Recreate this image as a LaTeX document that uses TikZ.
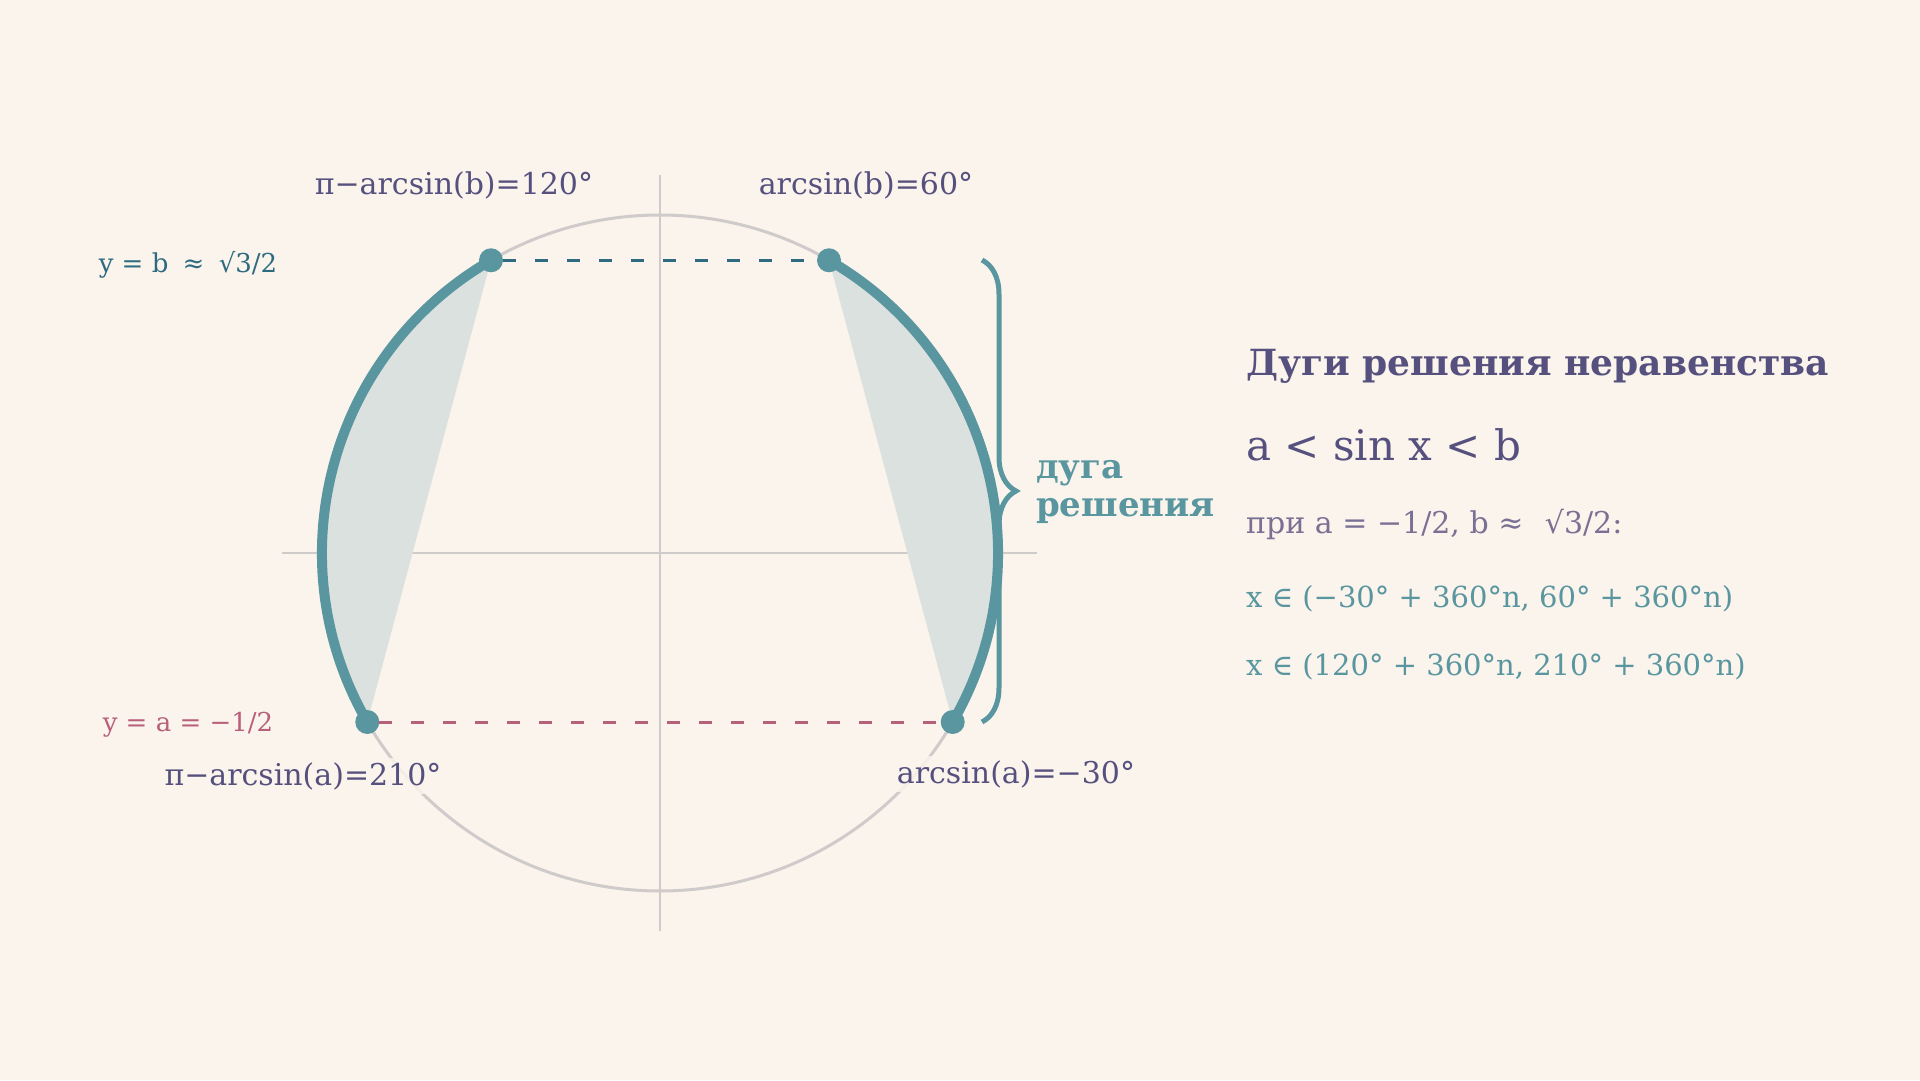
\documentclass[tikz,border=0pt]{standalone}
\usepackage{fontspec}
\setmainfont{DejaVu Serif}
\usetikzlibrary{decorations.pathreplacing}
\definecolor{bg}{HTML}{FAF4EC}
\definecolor{arccol}{HTML}{5A96A0}
\definecolor{bcol}{HTML}{2E6A80}
\definecolor{acol}{HTML}{B8607A}
\definecolor{ink}{HTML}{56507E}
\definecolor{inklight}{HTML}{7A7094}
\definecolor{axiscol}{HTML}{D0CBCB}
\definecolor{shadecol}{HTML}{DAE1DF}
\tikzset{
  lbl/.style={fill=bg,fill opacity=.85,text opacity=1,inner sep=4pt,text=ink,
    font=\fontsize{30}{36}\selectfont},
  ylbl/.style={lbl,font=\fontsize{26}{32}\selectfont},
  pt/.style={circle,fill=arccol,inner sep=0pt,minimum size=24pt},
  txt/.style={anchor=base west,inner sep=0pt},
}
\begin{document}
\begin{tikzpicture}[x=1pt,y=1pt]
\fill[bg] (-660,-527) rectangle (1260,553);
\useasboundingbox (-660,-527) rectangle (1260,553);
% axes and unit circle
\draw[axiscol,line width=2] (-378,0)--(377,0);
\draw[axiscol,line width=2] (0,-378)--(0,378);
\draw[axiscol,line width=3] (0,0) circle (338);
% solution arcs
\fill[shadecol] (120:338) arc (120:210:338) -- cycle;
\fill[shadecol] (60:338) arc (60:-30:338) -- cycle;
\draw[arccol,line width=10] (120:338) arc (120:210:338);
\draw[arccol,line width=10] (-30:338) arc (-30:60:338);
\foreach \a/\n in {60/b1,120/b2,210/a2,-30/a1}
{
    \node[pt] (p\n) at (\a:338) {};
}
\draw[bcol,line width=3,dash pattern=on 13 off 19] (pb2)--(pb1);
\draw[acol,line width=3,dash pattern=on 13 off 19] (pa2)--(pa1);
\draw[arccol,line width=5,decorate,decoration={brace,amplitude=34}] (322,293)--(322,-169);
% labels
\node[lbl,anchor=base] (l120) at (-206,359) {π−arcsin(b)=120°};
\node[lbl,anchor=base] (l60) at (206,359) {arcsin(b)=60°};
\node[ylbl,anchor=base,text=bcol] (yb) at (-472,281) {y = b\hspace{6pt} ≈\hspace{6pt} √3/2};
\node[ylbl,anchor=base,text=acol] (ya) at (-472,-178) {y = a = −1/2};
\node[lbl,anchor=base] (l210) at (-357,-232) {π−arcsin(a)=210°};
\node[lbl,anchor=base] (l30) at (356,-230) {arcsin(a)=−30°};
\node[txt,align=left,text=arccol,font=\bfseries\fontsize{34}{38}\selectfont] (arcname) at (376,37) {дуга\\решения};
% right block
\node[txt,text=ink,font=\bfseries\fontsize{36}{42}\selectfont] (title) at (586,178) {Дуги решения неравенства};
\node[txt,text=ink,font=\fontsize{42}{50}\selectfont] (ineq) at (586,93) {a < sin x < b};
\node[txt,text=inklight,font=\fontsize{30}{36}\selectfont] (cond) at (586,20) {при a = −1/2, b ≈\hspace{12pt} √3/2:};
\node[txt,text=arccol,font=\fontsize{29}{35}\selectfont] (sol1) at (586,-54) {x ∈ (−30° + 360°n, 60° + 360°n)};
\node[txt,text=arccol,font=\fontsize{29}{35}\selectfont] (sol2) at (586,-122) {x ∈ (120° + 360°n, 210° + 360°n)};
\end{tikzpicture}
\end{document}
